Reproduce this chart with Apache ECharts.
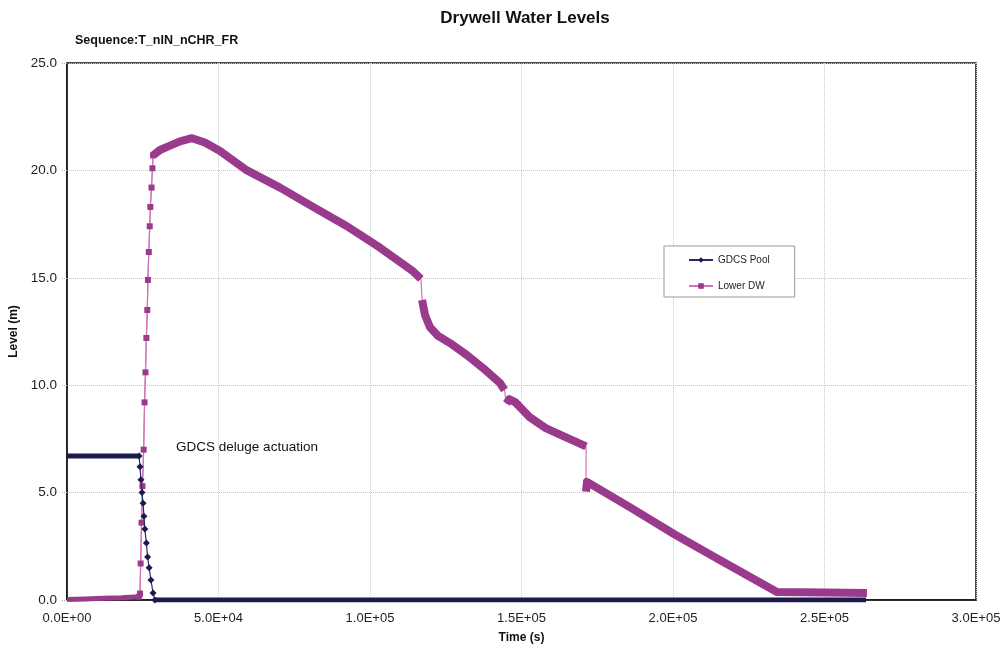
<!DOCTYPE html>
<html>
<head>
<meta charset="utf-8">
<script src="https://cdn.jsdelivr.net/npm/echarts@6/dist/echarts.min.js"></script>
<style>html,body{margin:0;padding:0;background:#fff}#c{width:1007px;height:655px}</style>
</head>
<body>
<div id="c"></div>
<script>
// ---- data (time in s, level in m) ----
const gdcsFlat = [[0,6.7],[4000,6.7],[8000,6.7],[12000,6.7],[16000,6.7],[20000,6.7],[23800,6.7]];
const gdcsDrop = [[23800,6.7],[24100,6.2],[24400,5.6],[24750,5.0],[25100,4.5],[25400,3.9],[25700,3.3],[26200,2.65],[26600,2.0],[27100,1.5],[27700,0.93],[28400,0.33],[29000,0]];
const gdcsZero = [[29000,0],[60000,0],[100000,0],[150000,0],[200000,0],[263700,0]];

const ldwBase = [[0,0.02],[6000,0.05],[12000,0.08],[18000,0.1],[23800,0.15]];
const ldwRise = [[23800,0.15],[24100,0.3],[24300,1.7],[24600,3.6],[24900,5.3],[25300,7.0],[25600,9.2],[25900,10.6],[26200,12.2],[26500,13.5],[26700,14.9],[27000,16.2],[27300,17.4],[27500,18.3],[27900,19.2],[28200,20.1],[28400,20.7]];
const ldwFall1 = [[28400,20.7],[30700,20.95],[34000,21.15],[37300,21.35],[41250,21.5],[45500,21.3],[50500,20.9],[59400,20.0],[70300,19.2],[81200,18.3],[92400,17.4],[103300,16.4],[114200,15.3],[116800,14.95]];
const ldwFall2 = [[117200,13.97],[118150,13.27],[119800,12.7],[122400,12.3],[126400,11.96],[132000,11.4],[137300,10.8],[142900,10.1],[144400,9.78]];
const ldwFall3 = [[145000,9.15],[146000,9.35],[148000,9.2],[152800,8.5],[158000,8.0],[162700,7.7],[171300,7.15]];
const ldwFall4 = [[171300,5.05],[171600,5.5],[186000,4.3],[200600,3.05],[215000,1.9],[234300,0.37],[250000,0.35],[264000,0.33]];

const xTicks = {min:0, max:300000, interval:50000};
const yTicks = {min:0, max:25, interval:5};
const annotation = {text:'GDCS deluge actuation', at:[36000, 7.12]};

// ---- styles ----
const NAVY = '#1b1b4d', NAVY_LINE = '#2a2a66';
const PURP = '#9a3a8c', PINK_LINE = '#d272b9';
const FONT = 'Liberation Sans, Arial';

function sci(v){
  if (v === 0) return '0.0E+00';
  const e = Math.floor(Math.log10(v));
  const m = v / Math.pow(10, e);
  return m.toFixed(1) + 'E+' + String(e).padStart(2, '0');
}

const thick = (name, data, color, w) => ({
  name, type:'line', data, symbol:'none', silent:true, z:2,
  lineStyle:{color, width:w, cap:'butt', join:'round'}
});

const ldwAll = [].concat(ldwBase, ldwRise, ldwFall1, ldwFall2, ldwFall3, ldwFall4);

const option = {
  animation:false,
  backgroundColor:'#fff',
  title:[
    {text:'Drywell Water Levels', left:520, top:5, textAlign:'center',
     textStyle:{fontFamily:FONT, fontSize:17, fontWeight:'bold', color:'#111'}},
    {text:'Sequence:T_nIN_nCHR_FR', left:70, top:29,
     textStyle:{fontFamily:FONT, fontSize:12.5, fontWeight:'bold', color:'#111'}}
  ],
  legend:{
    orient:'vertical', left:664, top:246,
    padding:[9,25,6,24], itemGap:16, itemWidth:24, itemHeight:7,
    backgroundColor:'#fff', borderColor:'#999', borderWidth:1,
    textStyle:{fontFamily:FONT, fontSize:10, color:'#222'},
    data:['GDCS Pool','Lower DW']
  },
  grid:{left:67, right:31, top:63, bottom:55, show:true, borderColor:'#111', borderWidth:1.5, outerBoundsMode:'none'},
  xAxis:{
    type:'value', min:xTicks.min, max:xTicks.max, interval:xTicks.interval,
    name:'Time (s)', nameLocation:'middle', nameGap:32,
    nameTextStyle:{fontFamily:FONT, fontSize:12, fontWeight:'bold', color:'#111'},
    axisLine:{show:true, onZero:false, lineStyle:{color:'#111', width:1.5}},
    axisTick:{show:false},
    axisLabel:{formatter:sci, margin:12, fontFamily:FONT, fontSize:13, color:'#222'},
    splitLine:{show:true, lineStyle:{color:'#c9c9c9', type:'dotted', width:1}}
  },
  yAxis:{
    type:'value', min:yTicks.min, max:yTicks.max, interval:yTicks.interval,
    name:'Level (m)', nameLocation:'middle', nameGap:41,
    nameTextStyle:{fontFamily:FONT, fontSize:12, fontWeight:'bold', color:'#111'},
    axisLine:{show:true, lineStyle:{color:'#111', width:1.5}},
    axisTick:{show:true, length:5, lineStyle:{color:'#aaa', type:'dotted'}},
    axisLabel:{formatter:v=>v.toFixed(1), margin:10, fontFamily:FONT, fontSize:13.5, color:'#222'},
    splitLine:{show:true, lineStyle:{color:'#c9c9c9', type:'dotted', width:1}}
  },
  series:[
    {name:'GDCS Pool', type:'line', data:gdcsDrop, symbol:'diamond', symbolSize:7, showAllSymbol:true, z:4,
     itemStyle:{color:NAVY}, lineStyle:{color:NAVY_LINE, width:1.2},
     markPoint:{symbol:'circle', symbolSize:0, silent:true,
       label:{show:true, position:'right', distance:0, formatter:annotation.text,
              fontFamily:FONT, fontSize:13.5, color:'#111'},
       data:[{coord:annotation.at}]}},
    thick('GDCS Pool', gdcsFlat, NAVY, 5),
    thick('GDCS Pool', gdcsZero, NAVY, 5),
    {name:'Lower DW', type:'line', data:ldwRise, symbol:'rect', symbolSize:6, showAllSymbol:true, z:3,
     itemStyle:{color:PURP}, lineStyle:{color:PINK_LINE, width:1.2}},
    {name:'Lower DW', type:'line', data:ldwAll, symbol:'none', silent:true, z:1,
     lineStyle:{color:PINK_LINE, width:1.2}},
    thick('Lower DW', ldwBase, PURP, 5),
    thick('Lower DW', ldwFall1, PURP, 8),
    thick('Lower DW', ldwFall2, PURP, 8),
    thick('Lower DW', ldwFall3, PURP, 8),
    thick('Lower DW', ldwFall4, PURP, 8)
  ]
};
const chart = echarts.init(document.getElementById('c'), null, {renderer:'canvas'});
chart.setOption(option);
</script>
</body>
</html>
